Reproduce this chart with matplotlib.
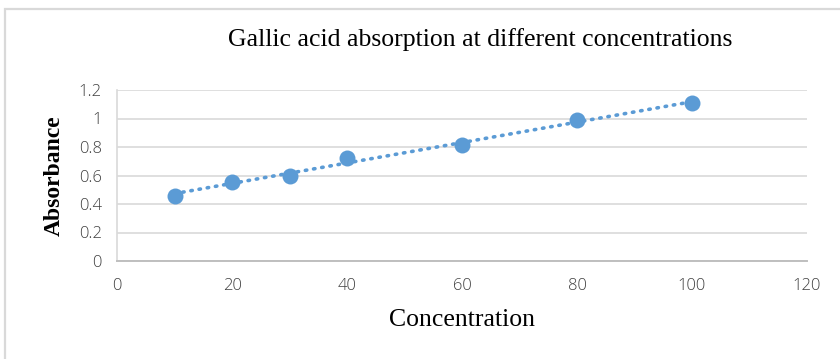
import numpy as np
import matplotlib.pyplot as plt
from matplotlib.patches import Rectangle

concentration = [10, 20, 30, 40, 60, 80, 100]
absorbance = [0.456, 0.556, 0.600, 0.725, 0.812, 0.988, 1.108]
x_ticks = [0, 20, 40, 60, 80, 100, 120]
y_ticks = [0, 0.2, 0.4, 0.6, 0.8, 1.0, 1.2]
y_labels = ["0", "0.2", "0.4", "0.6", "0.8", "1", "1.2"]

blue = "#5B9BD5"
grey = "#D9D9D9"
text_col = "#404040"
plt.rcParams["font.family"] = ["Liberation Serif", "DejaVu Serif"]

fig = plt.figure(figsize=(8.4, 3.59), dpi=100)
ax = fig.add_axes([117 / 840, 1 - 261 / 359, 690 / 840, 171 / 359])

# chart border like an Excel chart area
fig.patches.append(Rectangle((4.5 / 840, -0.1), 1.2, 1 - 8.5 / 359 + 0.1,
                             transform=fig.transFigure, fill=False,
                             edgecolor=grey, linewidth=1.6))

# linear trendline
slope, intercept = np.polyfit(concentration, absorbance, 1)
xs = np.array([min(concentration), max(concentration)])
ax.plot(xs, slope * xs + intercept, color=blue, linewidth=2.6,
        linestyle=(0, (0.4, 1.9)), dash_capstyle="round", zorder=2)
ax.plot(concentration, absorbance, "o", color=blue, markersize=11.5,
        markeredgewidth=0, zorder=3)

ax.set_xlim(0, 120)
ax.set_ylim(0, 1.2)
ax.set_xticks(x_ticks)
ax.set_yticks(y_ticks)
ax.set_yticklabels(y_labels)
ax.tick_params(length=0, labelsize=12, colors=text_col)
ax.tick_params(axis="x", pad=12)
ax.tick_params(axis="y", pad=11)
for lbl in ax.get_xticklabels() + ax.get_yticklabels():
    lbl.set_family(["Open Sans", "DejaVu Sans"])
    lbl.set_fontweight("light")
ax.grid(axis="y", color=grey, linewidth=1.2)
ax.set_axisbelow(True)
for side in ["top", "right"]:
    ax.spines[side].set_visible(False)
ax.spines["left"].set_color(grey)
ax.spines["left"].set_linewidth(1.2)
ax.spines["bottom"].set_color("#BFBFBF")
ax.spines["bottom"].set_linewidth(1.4)

ax.set_xlabel("Concentration", fontsize=18.5, labelpad=11)
ax.set_ylabel("Absorbance", fontsize=17, fontweight="bold", labelpad=10)
fig.text(480 / 840, 1 - 40 / 359, "Gallic acid absorption at different concentrations",
         ha="center", va="center", fontsize=18.5)

fig.savefig("out.png", dpi=100)
